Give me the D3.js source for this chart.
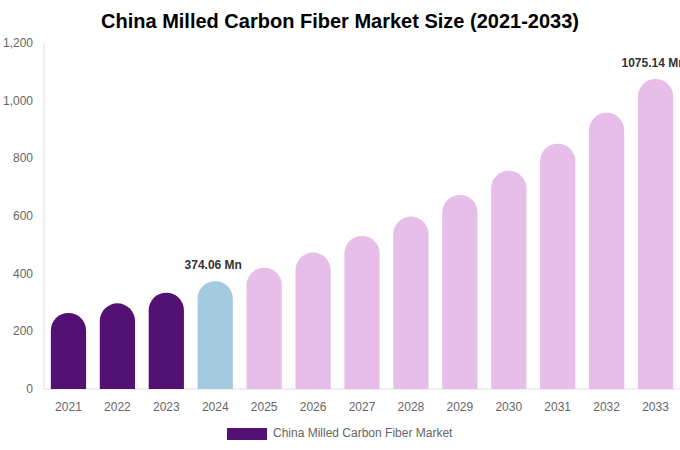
<!DOCTYPE html>
<html><head><meta charset="utf-8">
<script src="https://cdn.jsdelivr.net/npm/d3@7"></script>
<style>body{margin:0;background:#fff;font-family:"Liberation Sans",Arial,sans-serif;}</style>
</head><body>
<svg id="c" width="680" height="450"></svg>
<script>
const years = ["2021","2022","2023","2024","2025","2026","2027","2028","2029","2030","2031","2032","2033"];
const values = [264, 297, 334, 374.06, 421, 473, 531, 598, 673, 757, 851, 958, 1075.14];
const yTicks = [0, 200, 400, 600, 800, 1000, 1200];
const labels = {"2024": "374.06 Mn", "2033": "1075.14 Mn"};
const colorFor = y => +y < 2024 ? "#541174" : (+y === 2024 ? "#a3cadf" : "#e7bde9");

const svg = d3.select("#c");
const m = {l: 44, r: 0, t: 43, b: 61};
const W = 680, H = 450;
const x = d3.scaleBand().domain(years).range([m.l, W - m.r]).paddingInner(0.28).paddingOuter(0.14);
const y = d3.scaleLinear().domain([0, 1200]).range([H - m.b, m.t]);

svg.append("text").attr("x", 340).attr("y", 28).attr("text-anchor", "middle")
  .attr("font-size", 20).attr("font-weight", "bold").attr("fill", "#000")
  .text("China Milled Carbon Fiber Market Size (2021-2033)");

// axes lines
svg.append("line").attr("x1", m.l).attr("x2", m.l).attr("y1", m.t).attr("y2", y(0)).attr("stroke", "#e0e0e0");
svg.append("line").attr("x1", m.l).attr("x2", W).attr("y1", y(0)).attr("y2", y(0)).attr("stroke", "#e0e0e0");

svg.selectAll(".yt").data(yTicks).enter().append("text")
  .attr("x", 33).attr("y", d => y(d) + 4).attr("text-anchor", "end")
  .attr("font-size", 12).attr("fill", "#666").text(d => d3.format(",")(d));

svg.selectAll(".xt").data(years).enter().append("text")
  .attr("x", d => x(d) + x.bandwidth() / 2).attr("y", y(0) + 22).attr("text-anchor", "middle")
  .attr("font-size", 12).attr("fill", "#666").text(d => d);

const bw = x.bandwidth();
const r = bw / 2;
svg.selectAll(".bar").data(years).enter().append("path")
  .attr("fill", d => colorFor(d))
  .attr("d", (d, i) => {
    const x0 = x(d), x1 = x0 + bw, yt = y(values[i]), yb = y(0);
    return `M${x0},${yb} L${x0},${yt + r} A${r},${r} 0 0 1 ${x1},${yt + r} L${x1},${yb} Z`;
  });

svg.selectAll(".lbl").data(years.filter(d => labels[d])).enter().append("text")
  .attr("x", d => x(d) + bw / 2 - 2).attr("y", d => y(values[years.indexOf(d)]) - 12)
  .attr("text-anchor", "middle").attr("font-size", 12).attr("font-weight", "bold").attr("fill", "#333")
  .text(d => labels[d]);

// legend
svg.append("rect").attr("x", 227).attr("y", 428).attr("width", 40).attr("height", 12).attr("fill", "#541174");
svg.append("text").attr("x", 273).attr("y", 437).attr("font-size", 12).attr("fill", "#666")
  .text("China Milled Carbon Fiber Market");
</script>
</body></html>
